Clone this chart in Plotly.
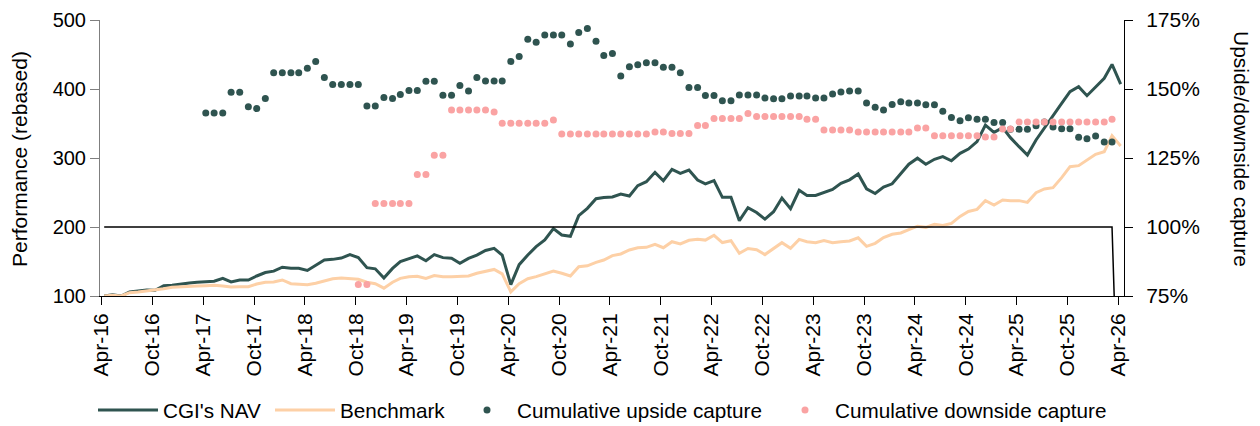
import pandas as pd
import plotly.graph_objects as go

# Monthly observation dates (Apr-16 .. Apr-26)
months = pd.date_range("2016-04-01", periods=121, freq="MS") + pd.Timedelta(days=9)

nav = [100, 101.9, 100, 105.8, 107.2, 108.7, 108.2, 115.0, 115.5, 117.4,
       118.8, 119.8, 120.3, 121.5, 125.6, 120.3, 123.2, 123.2, 129.0, 134.0,
       136.0, 141.7, 140.3, 140.3, 137.0, 144.5, 152.2, 153.1, 155.0, 160.0,
       155.6, 141.0, 139.4, 126.0, 140.0, 149.8, 154.6, 158.2, 151.0, 160.0,
       155.6, 154.6, 147.3, 154.6, 159.2, 166.0, 169.1, 159.2, 116.5, 145.4,
       159.4, 171.5, 181.2, 197.8, 188.4, 186.5, 216.5, 227.1, 241.0, 242.8,
       243.5, 247.8, 244.9, 259.9, 265.7, 279.2, 267.1, 283.6, 277.8, 282.6,
       268.1, 262.5, 267.3, 243.0, 243.0, 209.2, 228.0, 221.0, 211.4, 222.2,
       242.0, 226.5, 253.2, 245.7, 245.7, 250.0, 254.5, 263.3, 268.4, 276.8,
       255.4, 248.5, 257.8, 262.6, 277.0, 291.0, 299.7, 291.0, 298.1, 301.9,
       296.0, 306.8, 313.0, 323.7, 347.8, 337.2, 344.0, 329.5, 316.4, 304.3,
       326.1, 344.0, 362.3, 379.2, 396.1, 403.4, 390.3, 403.4, 415.5, 435.7,
       407.2]

benchmark = [100, 101, 100, 104.8, 105.8, 107.2, 108.7, 110.6, 112.6, 113.5,
             114.0, 114.5, 115.0, 115.5, 114.5, 113.0, 113.5, 113.5, 117.4, 120.0,
             120.3, 123.2, 117.9, 116.6, 116.2, 118.4, 122.0, 124.9, 126.1, 125.6,
             124.2, 120.0, 117.9, 111.3, 120.0, 125.6, 128.0, 128.5, 125.6, 129.7,
             128.0, 128.0, 128.5, 129.0, 133.0, 136.0, 138.5, 132.0, 106.0, 117.9,
             125.0, 128.0, 131.6, 136.2, 132.9, 129.0, 142.5, 143.8, 148.8, 152.2,
             158.5, 160.9, 166.7, 170.0, 170.5, 174.9, 170.0, 178.7, 175.4, 180.7,
             182.3, 181.0, 188.0, 177.5, 180.2, 161.8, 168.8, 167.0, 160.0, 168.3,
             177.3, 169.1, 182.1, 178.7, 177.3, 180.2, 177.3, 178.7, 179.7, 184.3,
             172.0, 176.3, 184.8, 189.4, 191.3, 196.2, 201.2, 199.5, 203.9, 202.2,
             205.3, 215.3, 222.5, 225.6, 238.2, 231.9, 239.1, 238.2, 238.2, 235.7,
             249.8, 255.1, 257.0, 271.5, 287.4, 288.9, 297.1, 305.3, 309.2, 332.4,
             317.4]

N = None
upside = [N, N, N, N, N, N, N, N, N, N,
          N, N, 141.3, 141.3, 141.3, 148.8, 148.8, 143.6, 142.9, 146.6,
          155.9, 155.9, 155.9, 155.9, 157.5, 160.0, 154.2, 151.6, 151.6, 151.6,
          151.6, 143.8, 143.8, 146.9, 146.6, 148.0, 149.5, 149.5, 152.8, 152.8,
          147.7, 147.7, 151.3, 149.3, 154.2, 152.9, 152.9, 152.9, 160.0, 161.8,
          168.0, 166.9, 169.6, 169.6, 169.6, 166.3, 170.5, 171.9, 167.3, 162.1,
          162.9, 154.7, 158.1, 158.8, 159.5, 159.5, 157.9, 157.9, 155.9, 150.5,
          150.5, 147.6, 147.6, 145.7, 145.7, 147.8, 147.8, 147.8, 146.7, 146.5,
          146.5, 147.5, 147.5, 147.5, 146.7, 146.7, 148.2, 148.9, 149.3, 149.3,
          144.9, 143.4, 142.4, 144.4, 145.4, 144.9, 144.9, 144.3, 144.3, 141.9,
          139.7, 138.5, 139.6, 139.0, 139.0, 137.9, 137.9, 135.4, 135.4, 135.4,
          136.7, 138.0, 136.2, 135.6, 135.6, 132.5, 132.0, 133.0, 130.8, 130.8,
          N]

downside = [N, N, N, N, N, N, N, N, N, N,
            N, N, N, N, N, N, N, N, N, N,
            N, N, N, N, N, N, N, N, N, N,
            79.2, 79.2, 108.5, 108.5, 108.5, 108.5, 108.5, 119.0, 119.0, 126.0,
            126.0, 142.4, 142.4, 142.4, 142.4, 142.4, 141.7, 137.6, 137.6, 137.6,
            137.6, 137.6, 137.6, 138.8, 133.7, 133.7, 133.7, 133.7, 133.7, 133.7,
            133.7, 133.7, 133.7, 133.7, 133.7, 134.4, 134.4, 133.9, 133.9, 133.9,
            136.8, 136.8, 139.3, 139.3, 139.3, 139.3, 141.1, 140.0, 140.0, 140.0,
            140.0, 140.0, 140.0, 139.0, 139.0, 135.1, 135.1, 135.1, 135.1, 134.4,
            134.4, 134.4, 134.4, 134.4, 134.4, 134.4, 135.9, 135.9, 133.1, 133.1,
            133.1, 133.1, 133.1, 133.1, 132.6, 132.6, 135.5, 135.5, 138.0, 138.0,
            138.0, 138.0, 138.0, 138.0, 138.0, 138.0, 138.0, 138.0, 138.0, 139.0,
            N]

# 100% reference line (drops away after the last capture observation)
ref_100 = [100.0] * 120 + [0.0]

DARK = "#2f5450"
PEACH = "#fdd0a6"
PINK = "#faa3a3"

FONT = "Liberation Sans, Arial, sans-serif"

fig = go.Figure()
fig.add_trace(go.Scatter(x=months, y=nav, name="CGI's NAV", mode="lines",
                         line=dict(color=DARK, width=3), legend="legend"))
fig.add_trace(go.Scatter(x=months, y=benchmark, name="Benchmark", mode="lines",
                         line=dict(color=PEACH, width=3), legend="legend2"))
fig.add_trace(go.Scatter(x=months, y=ref_100, mode="lines", yaxis="y2",
                         line=dict(color="black", width=1.5), showlegend=False,
                         hoverinfo="skip"))
fig.add_trace(go.Scatter(x=months, y=upside, name="Cumulative upside capture",
                         mode="markers", yaxis="y2",
                         marker=dict(color=DARK, size=7), legend="legend3"))
fig.add_trace(go.Scatter(x=months, y=downside, name="Cumulative downside capture",
                         mode="markers", yaxis="y2",
                         marker=dict(color=PINK, size=7), legend="legend4"))

L, R, T, B = 100, 136, 20, 130
W, H = 1260, 426
pw, ph = W - L - R, H - T - B

def px_x(px):
    return (px - L) / pw

def px_y(py):
    return (H - B - py) / ph

leg_common = dict(orientation="h", yanchor="middle", y=px_y(410), xanchor="left",
                  font=dict(family=FONT, size=20.7, color="black"),
                  bgcolor="rgba(0,0,0,0)", borderwidth=0)

fig.update_layout(
    width=W, height=H,
    margin=dict(l=L, r=R, t=T, b=B, autoexpand=False),
    paper_bgcolor="white", plot_bgcolor="white",
    font=dict(family=FONT, size=20, color="black"),
    xaxis=dict(type="date", range=["2016-03-26", "2026-04-22"],
               tick0="2016-04-01", dtick="M6", tickformat="%b-%y",
               tickangle=-90, ticks="outside", ticklen=8, tickcolor="black",
               showline=True, linecolor="black", linewidth=1,
               showgrid=False, zeroline=False, automargin=False,
               tickfont=dict(family=FONT, size=21, color="black")),
    yaxis=dict(range=[100, 500], dtick=100, ticks="outside", ticklen=9,
               tickcolor="#7f7f7f", showline=True, linecolor="#7f7f7f", linewidth=1,
               showgrid=False, zeroline=False, automargin=False,
               tickfont=dict(family=FONT, size=20, color="black")),
    yaxis2=dict(range=[75, 175], dtick=25, ticksuffix="%", overlaying="y", side="right",
                ticks="outside", ticklen=8, tickcolor="black",
                showline=True, linecolor="black", linewidth=1,
                showgrid=False, zeroline=False, automargin=False,
                ticklabelstandoff=9,
                tickfont=dict(family=FONT, size=21, color="black")),
    legend=dict(leg_common, x=px_x(93), itemwidth=60),
    legend2=dict(leg_common, x=px_x(270), itemwidth=60),
    legend3=dict(leg_common, x=px_x(457), itemwidth=50),
    legend4=dict(leg_common, x=px_x(775), itemwidth=50),
    annotations=[
        dict(text="Performance (rebased)", textangle=-90,
             xref="paper", yref="paper", x=px_x(19), y=px_y(159),
             xanchor="center", yanchor="middle", showarrow=False,
             font=dict(family=FONT, size=21, color="black")),
        dict(text="Upside/downside capture", textangle=90,
             xref="paper", yref="paper", x=px_x(1242), y=px_y(149),
             xanchor="center", yanchor="middle", showarrow=False,
             font=dict(family=FONT, size=21, color="black")),
    ],
    showlegend=True,
)

fig.write_html("out.html", config={"displayModeBar": False},
               post_script="document.body.style.margin='0';")
